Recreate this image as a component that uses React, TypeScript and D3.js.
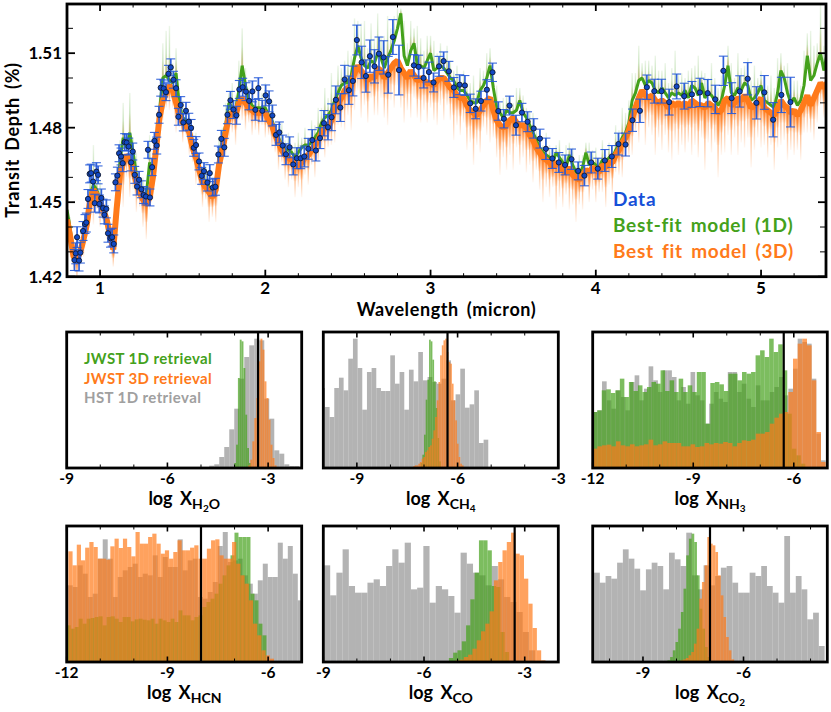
import React, { useEffect, useRef } from "react";
import * as d3 from "d3";

const FONT = "Lato, 'Open Sans', sans-serif";
const GREEN = "#44a11b";
const ORANGE = "#ff7a1a";
const GREY = "#a0a0a0";
const BLUE = "#1650d8";

// measured spectrum
const wavelengths = [
  0.845, 0.853, 0.861, 0.873, 0.881, 0.897, 0.909, 0.917, 0.927, 0.937,
  0.946, 0.958, 0.968, 0.978, 0.988, 0.996, 1.008, 1.018, 1.026, 1.038,
  1.048, 1.063, 1.073, 1.083, 1.093, 1.105, 1.115, 1.127, 1.137, 1.149,
  1.161, 1.173, 1.188, 1.198, 1.21, 1.224, 1.236, 1.25, 1.264, 1.278,
  1.29, 1.302, 1.315, 1.329, 1.343, 1.357, 1.367, 1.385, 1.399, 1.414,
  1.428, 1.444, 1.46, 1.474, 1.488, 1.504, 1.52, 1.537, 1.551, 1.567,
  1.581, 1.599, 1.615, 1.629, 1.65, 1.664, 1.682, 1.698, 1.716, 1.734,
  1.752, 1.771, 1.789, 1.807, 1.825, 1.843, 1.863, 1.883, 1.902, 1.922,
  1.94, 1.958, 1.982, 2.002, 2.023, 2.043, 2.065, 2.085, 2.105, 2.125,
  2.147, 2.169, 2.191, 2.214, 2.236, 2.26, 2.284, 2.306, 2.331, 2.355,
  2.379, 2.401, 2.427, 2.454, 2.48, 2.506, 2.53, 2.554, 2.583, 2.609,
  2.633, 2.661, 2.688, 2.716, 2.744, 2.772, 2.809, 2.899, 2.928, 2.958,
  2.99, 3.018, 3.051, 3.079, 3.111, 3.141, 3.176, 3.208, 3.24, 3.273,
  3.305, 3.341, 3.375, 3.41, 3.444, 3.478, 3.517, 3.553, 3.587, 3.624,
  3.662, 3.698, 3.737, 3.776, 3.814, 3.853, 3.893, 3.931, 3.972, 4.012,
  4.055, 4.097, 4.137, 4.18, 4.222, 4.267, 4.309, 4.354, 4.398, 4.444,
  4.489, 4.535, 4.582, 4.63, 4.677, 4.723, 4.772, 4.822, 4.871, 4.919,
  4.972, 5.02, 5.073, 5.123, 5.178,
];
const depths = [
  1.4267, 1.4294, 1.4359, 1.4265, 1.4297, 1.4384, 1.4412, 1.4418, 1.4513, 1.4614,
  1.4617, 1.4583, 1.4496, 1.4623, 1.461, 1.4493, 1.4517, 1.4476, 1.4449, 1.4473,
  1.4375, 1.4355, 1.4359, 1.4332, 1.458, 1.4607, 1.4697, 1.4684, 1.4657, 1.4742,
  1.474, 1.4724, 1.466, 1.4704, 1.461, 1.4563, 1.459, 1.4552, 1.4529, 1.4523,
  1.4711, 1.4519, 1.4641, 1.4747, 1.4728, 1.4852, 1.4961, 1.4958, 1.4943, 1.5017,
  1.5043, 1.4993, 1.4959, 1.4844, 1.4891, 1.4821, 1.4868, 1.4824, 1.4799, 1.4719,
  1.473, 1.4664, 1.4606, 1.4625, 1.4579, 1.4617, 1.4559, 1.4562, 1.4692, 1.4755,
  1.4721, 1.4852, 1.491, 1.4873, 1.485, 1.4954, 1.4963, 1.4945, 1.4908, 1.4946,
  1.4872, 1.4959, 1.4868, 1.493, 1.4906, 1.4849, 1.4771, 1.4781, 1.4728, 1.4693,
  1.4721, 1.4652, 1.4677, 1.4677, 1.4684, 1.4715, 1.475, 1.4708, 1.4758, 1.4818,
  1.4802, 1.4842, 1.4912, 1.4881, 1.4994, 1.4951, 1.4988, 1.5153, 1.5063, 1.5008,
  1.5088, 1.5047, 1.5098, 1.5083, 1.5013, 1.5165, 1.5032, 1.5051, 1.5045, 1.5,
  1.5024, 1.4982, 1.5047, 1.5068, 1.5027, 1.4962, 1.4973, 1.497, 1.4898, 1.4876,
  1.4907, 1.4953, 1.5023, 1.4867, 1.4836, 1.4889, 1.481, 1.4861, 1.4824, 1.4797,
  1.4756, 1.4715, 1.4676, 1.466, 1.465, 1.4673, 1.4626, 1.4607, 1.466, 1.4635,
  1.4668, 1.4684, 1.4734, 1.4732, 1.483, 1.4868, 1.4963, 1.4947, 1.4947, 1.4903,
  1.4966, 1.4927, 1.4934, 1.4942, 1.4939, 1.4914, 1.5029, 1.4919, 1.4946, 1.4997,
  1.49, 1.4942, 1.4832, 1.4932, 1.4903,
];
const depthErrors = [
  0.0042, 0.0042, 0.0042, 0.0042, 0.0042, 0.0038, 0.0038, 0.0038, 0.0038, 0.0036,
  0.0036, 0.0036, 0.0036, 0.0036, 0.0036, 0.0036, 0.0036, 0.0036, 0.0036, 0.0036,
  0.0036, 0.0036, 0.0036, 0.0036, 0.0034, 0.0034, 0.0034, 0.0034, 0.0034, 0.0034,
  0.0034, 0.0034, 0.0034, 0.0034, 0.0034, 0.0034, 0.0034, 0.0034, 0.0034, 0.0034,
  0.0034, 0.0034, 0.0034, 0.0034, 0.0034, 0.0034, 0.0034, 0.0034, 0.0034, 0.0034,
  0.0034, 0.0034, 0.0034, 0.0034, 0.0034, 0.0034, 0.0034, 0.0034, 0.0034, 0.0034,
  0.0034, 0.0034, 0.0034, 0.0034, 0.0034, 0.0034, 0.0034, 0.0034, 0.0034, 0.0034,
  0.0036, 0.0036, 0.0036, 0.0036, 0.0036, 0.0036, 0.0036, 0.0036, 0.0036, 0.0042,
  0.0042, 0.0042, 0.0042, 0.0042, 0.0042, 0.0042, 0.0042, 0.0042, 0.0042, 0.0042,
  0.0042, 0.0042, 0.0042, 0.0042, 0.0042, 0.0042, 0.0042, 0.0042, 0.0042, 0.0051,
  0.0051, 0.0054, 0.0056, 0.0056, 0.0057, 0.0057, 0.006, 0.006, 0.0065, 0.0065,
  0.0065, 0.0067, 0.0067, 0.0067, 0.0074, 0.007, 0.01, 0.0043, 0.0047, 0.004,
  0.004, 0.0038, 0.004, 0.0037, 0.004, 0.004, 0.004, 0.004, 0.0037, 0.004,
  0.004, 0.004, 0.0037, 0.0037, 0.0037, 0.0038, 0.004, 0.0037, 0.004, 0.0039,
  0.0038, 0.0043, 0.004, 0.004, 0.004, 0.0041, 0.0036, 0.0041, 0.0042, 0.0042,
  0.0044, 0.0044, 0.0044, 0.0046, 0.0045, 0.0047, 0.0049, 0.0048, 0.0048, 0.0052,
  0.005, 0.0052, 0.0052, 0.0057, 0.0055, 0.0057, 0.0059, 0.0062, 0.0063, 0.0065,
  0.0065, 0.0068, 0.0069, 0.0071, 0.01,
];

// model spectra, one value every 0.02 micron from 0.80
const MODEL_START = 0.8;
const MODEL_STEP = 0.02;
const model3D = [
  1.443, 1.436, 1.428, 1.427, 1.43, 1.435, 1.441, 1.451, 1.455, 1.453,
  1.45, 1.447, 1.443, 1.437, 1.431, 1.447, 1.461, 1.466, 1.469, 1.467,
  1.463, 1.458, 1.454, 1.451, 1.449, 1.452, 1.46, 1.472, 1.484, 1.491,
  1.494, 1.497, 1.495, 1.49, 1.485, 1.482, 1.481, 1.478, 1.472, 1.468,
  1.463, 1.458, 1.456, 1.454, 1.452, 1.455, 1.465, 1.471, 1.478, 1.485,
  1.486, 1.485, 1.49, 1.492, 1.49, 1.488, 1.487, 1.486, 1.486, 1.486,
  1.486, 1.483, 1.481, 1.477, 1.474, 1.471, 1.469, 1.468, 1.467, 1.465,
  1.465, 1.466, 1.468, 1.469, 1.471, 1.473, 1.475, 1.478, 1.48, 1.48,
  1.483, 1.488, 1.49, 1.492, 1.495, 1.496, 1.497, 1.502, 1.505, 1.503,
  1.501, 1.499, 1.501, 1.5, 1.504, 1.503, 1.5, 1.502, 1.504, 1.506,
  1.507, 1.504, 1.502, 1.5, 1.503, 1.501, 1.499, 1.5, 1.499, 1.498,
  1.498, 1.497, 1.499, 1.5, 1.5, 1.498, 1.496, 1.495, 1.493, 1.492,
  1.492, 1.489, 1.487, 1.486, 1.485, 1.487, 1.489, 1.491, 1.492, 1.487,
  1.483, 1.481, 1.48, 1.481, 1.483, 1.484, 1.482, 1.481, 1.481, 1.48,
  1.477, 1.475, 1.472, 1.47, 1.468, 1.467, 1.466, 1.464, 1.466, 1.465,
  1.463, 1.462, 1.464, 1.461, 1.46, 1.459, 1.461, 1.463, 1.462, 1.464,
  1.463, 1.462, 1.465, 1.464, 1.466, 1.466, 1.469, 1.471, 1.474, 1.476,
  1.479, 1.484, 1.488, 1.492, 1.495, 1.493, 1.492, 1.493, 1.491, 1.49,
  1.491, 1.49, 1.488, 1.49, 1.489, 1.49, 1.489, 1.49, 1.488, 1.491,
  1.49, 1.489, 1.489, 1.488, 1.49, 1.489, 1.488, 1.486, 1.487, 1.491,
  1.492, 1.489, 1.49, 1.492, 1.491, 1.493, 1.491, 1.488, 1.489, 1.49,
  1.492, 1.488, 1.487, 1.486, 1.485, 1.488, 1.491, 1.489, 1.488, 1.486,
  1.487, 1.485, 1.487, 1.49, 1.493, 1.489, 1.492, 1.495, 1.498, 1.496,
  1.498,
];
const model1D = [
  1.447, 1.439, 1.429, 1.428, 1.431, 1.436, 1.442, 1.453, 1.457, 1.455,
  1.451, 1.448, 1.444, 1.438, 1.432, 1.449, 1.466, 1.476, 1.472, 1.478,
  1.47, 1.461, 1.456, 1.453, 1.453, 1.466, 1.461, 1.474, 1.487, 1.5,
  1.501, 1.499, 1.498, 1.502, 1.489, 1.484, 1.483, 1.48, 1.474, 1.47,
  1.465, 1.46, 1.458, 1.456, 1.454, 1.457, 1.468, 1.475, 1.481, 1.49,
  1.488, 1.487, 1.495, 1.505, 1.497, 1.491, 1.489, 1.488, 1.488, 1.488,
  1.488, 1.485, 1.483, 1.479, 1.476, 1.473, 1.471, 1.471, 1.47, 1.468,
  1.47, 1.472, 1.473, 1.473, 1.474, 1.476, 1.478, 1.482, 1.484, 1.485,
  1.487, 1.491, 1.494, 1.497, 1.498, 1.498, 1.501, 1.508, 1.513, 1.508,
  1.505, 1.504, 1.507, 1.506, 1.51, 1.508, 1.504, 1.508, 1.511, 1.515,
  1.52, 1.526, 1.509, 1.505, 1.511, 1.514, 1.505, 1.505, 1.504, 1.507,
  1.51, 1.503, 1.504, 1.505, 1.504, 1.502, 1.5, 1.499, 1.496, 1.495,
  1.495, 1.493, 1.491, 1.49, 1.49, 1.495, 1.497, 1.5, 1.505, 1.496,
  1.488, 1.486, 1.484, 1.487, 1.486, 1.486, 1.487, 1.491, 1.486, 1.484,
  1.481, 1.478, 1.475, 1.472, 1.47, 1.469, 1.468, 1.466, 1.47, 1.468,
  1.466, 1.464, 1.469, 1.465, 1.462, 1.461, 1.464, 1.47, 1.465, 1.466,
  1.465, 1.464, 1.467, 1.466, 1.468, 1.468, 1.471, 1.473, 1.476, 1.478,
  1.482, 1.491, 1.494, 1.499, 1.5, 1.497, 1.499, 1.498, 1.495, 1.494,
  1.496, 1.494, 1.492, 1.494, 1.493, 1.494, 1.493, 1.495, 1.492, 1.497,
  1.496, 1.493, 1.498, 1.492, 1.494, 1.493, 1.491, 1.489, 1.491, 1.497,
  1.505, 1.494, 1.493, 1.496, 1.495, 1.498, 1.497, 1.491, 1.492, 1.494,
  1.497, 1.491, 1.49, 1.489, 1.488, 1.494, 1.503, 1.5, 1.494, 1.49,
  1.492, 1.489, 1.491, 1.497, 1.509, 1.499, 1.501, 1.506, 1.51, 1.503,
  1.51,
];
// length of the faint opacity features above/below the models, in 0.001 %
const spikeUp = [
  12, 5, 3, 6, 2, 7, 4, 9, 16, 6,
  8, 3, 7, 2, 5, 3, 9, 14, 5, 16,
  6, 9, 4, 7, 3, 11, 5, 8, 6, 14,
  18, 22, 8, 10, 5, 7, 3, 6, 4, 8,
  5, 3, 7, 4, 6, 3, 8, 5, 9, 4,
  10, 6, 12, 15, 7, 5, 9, 4, 8, 6,
  10, 5, 8, 3, 6, 9, 4, 7, 3, 6,
  8, 4, 7, 3, 9, 5, 10, 6, 12, 7,
  15, 6, 11, 7, 9, 13, 8, 16, 10, 14,
  18, 8, 15, 10, 16, 9, 13, 17, 9, 10,
  8, 2, 14, 9, 12, 6, 16, 11, 7, 10,
  7, 12, 6, 9, 5, 11, 7, 4, 9, 6,
  8, 4, 7, 11, 5, 9, 6, 10, 7, 5,
  9, 4, 8, 6, 7, 4, 9, 5, 7, 4,
  6, 8, 4, 7, 3, 9, 5, 6, 3, 7,
  4, 9, 5, 7, 3, 8, 5, 4, 9, 5,
  7, 4, 8, 3, 6, 5, 10, 6, 12, 8,
  9, 11, 8, 14, 6, 10, 8, 7, 14, 9,
  7, 12, 6, 10, 18, 8, 9, 5, 11, 7,
  9, 16, 5, 10, 6, 13, 9, 7, 10, 6,
  8, 12, 7, 14, 9, 7, 11, 8, 13, 6,
  6, 9, 7, 12, 8, 14, 7, 5, 12, 9,
  7, 10, 6, 14, 9, 20, 12, 8, 20, 10,
  9,
];
const spikeDown = [
  6, 8, 5, 9, 4, 7, 5, 8, 14, 6,
  10, 5, 8, 4, 7, 6, 12, 18, 9, 15,
  8, 12, 6, 11, 14, 5, 9, 7, 4, 8,
  6, 10, 7, 12, 5, 8, 4, 9, 6, 11,
  7, 10, 5, 12, 8, 13, 6, 5, 9, 10,
  8, 12, 7, 9, 11, 6, 10, 7, 9, 5,
  10, 6, 9, 7, 11, 5, 10, 12, 8, 13,
  9, 14, 7, 12, 6, 13, 9, 7, 12, 8,
  10, 14, 9, 12, 16, 11, 18, 15, 10, 19,
  12, 17, 9, 15, 19, 11, 16, 21, 13, 18,
  10, 16, 20, 13, 19, 9, 15, 18, 12, 16,
  10, 14, 18, 11, 17, 9, 13, 20, 12, 15,
  10, 18, 13, 21, 12, 17, 9, 14, 18, 11,
  15, 20, 12, 18, 14, 21, 10, 16, 13, 18,
  12, 17, 9, 15, 18, 11, 14, 8, 19, 13,
  15, 9, 17, 12, 18, 10, 14, 7, 12, 9,
  13, 8, 11, 16, 9, 13, 7, 10, 14, 8,
  11, 15, 10, 18, 13, 20, 12, 16, 22, 14,
  20, 13, 18, 23, 15, 21, 16, 20, 14, 22,
  17, 21, 13, 25, 16, 19, 14, 26, 18, 21,
  15, 20, 14, 23, 17, 21, 15, 24, 18, 14,
  20, 15, 19, 13, 22, 16, 18, 14, 21, 15,
  18, 14, 20, 12, 15, 11, 17, 13, 9, 12,
  11,
];

const xTicksMain = [1, 2, 3, 4, 5];
const yTicksMain = [1.42, 1.45, 1.48, 1.51];
const yMinorMain = [1.43, 1.44, 1.46, 1.47, 1.49, 1.5, 1.52];
const legendMain = [
  { text: "Data", color: BLUE },
  { text: "Best-fit model (1D)", color: GREEN },
  { text: "Best fit model (3D)", color: ORANGE },
];
const legendHist = [
  { text: "JWST 1D retrieval", color: GREEN },
  { text: "JWST 3D retrieval", color: ORANGE },
  { text: "HST 1D retrieval", color: GREY },
];

// posterior histograms, heights in arbitrary counts
const h2oGrey = [7, 11, 33, 63, 116, 178, 268, 333, 368, 388, 383, 208, 148, 53, 43, 11, 6, 6];
const h2oGreen = [15, 70, 270, 385, 380, 300, 160, 60, 15];
const h2oOrange = [8, 25, 80, 150, 210, 320, 388, 355, 260, 210, 145, 70, 30, 8];

const ch4Grey = [240, 183, 153, 240, 271, 233, 328, 388, 300, 175, 288, 300, 240, 231, 231, 338, 253, 288, 175, 295, 260, 348, 263, 273, 258, 253, 268, 323, 203, 221, 298, 181, 191, 233, 75, 85];
const ch4Green = [15, 40, 100, 205, 265, 385, 380, 325, 260, 180, 90, 20];
const ch4Orange = [3, 6, 8, 8, 13, 18, 28, 33, 48, 53, 63, 68, 88, 113, 153, 203, 258, 338, 368, 383, 388, 348, 318, 313, 253, 203, 143, 73, 33, 13, 8, 3];

const nh3Grey = [168, 173, 260, 203, 178, 233, 213, 173, 258, 278, 203, 238, 305, 263, 228, 293, 293, 273, 203, 243, 193, 288, 218, 203, 133, 193, 228, 208, 198, 288, 288, 228, 253, 208, 183, 248, 203, 203, 228, 243, 273, 218, 238, 298, 388, 378, 373, 268, 103, 23];
const nh3Green = [168, 173, 233, 236, 225, 233, 268, 213, 258, 231, 248, 228, 243, 258, 253, 293, 231, 263, 228, 268, 228, 248, 228, 288, 288, 133, 255, 258, 251, 231, 283, 283, 263, 288, 283, 288, 338, 353, 333, 388, 348, 371, 293, 163, 58, 38, 13];
const nh3Orange = [58, 65, 68, 70, 65, 80, 68, 65, 71, 65, 68, 71, 85, 68, 71, 80, 75, 75, 75, 65, 65, 71, 63, 65, 75, 71, 75, 73, 78, 75, 65, 75, 83, 81, 85, 103, 103, 108, 133, 151, 163, 168, 228, 328, 373, 388, 368, 263, 108, 18];

const hcnGrey = [230, 225, 290, 265, 195, 205, 310, 368, 310, 195, 255, 275, 285, 295, 255, 265, 260, 320, 255, 315, 285, 285, 368, 275, 305, 310, 195, 190, 210, 240, 348, 390, 300, 305, 310, 260, 235, 205, 245, 295, 255, 255, 358, 310, 348, 265, 185];
const hcnGreen = [110, 100, 105, 130, 115, 130, 132, 135, 137, 110, 135, 137, 130, 120, 135, 135, 122, 128, 130, 127, 125, 130, 115, 130, 125, 120, 130, 120, 155, 140, 140, 125, 135, 140, 165, 180, 190, 205, 235, 260, 290, 320, 388, 375, 375, 375, 205, 185, 115, 80];
const hcnOrange = [332, 290, 352, 305, 343, 360, 345, 310, 310, 307, 347, 370, 342, 370, 345, 317, 390, 355, 355, 375, 385, 355, 325, 335, 310, 330, 365, 335, 335, 343, 350, 310, 310, 340, 365, 368, 320, 310, 310, 360, 295, 260, 235, 185, 115, 80, 35, 20, 10];

const coGrey = [290, 200, 268, 338, 228, 208, 208, 238, 248, 228, 288, 338, 298, 358, 218, 223, 348, 178, 228, 218, 198, 148, 328, 295, 268, 260, 230, 288, 248, 195, 180, 150, 90, 35];
const coGreen = [12, 28, 35, 62, 110, 188, 268, 365, 365, 335, 228, 225, 90, 30];
const coOrange = [4, 7, 15, 22, 40, 65, 92, 115, 152, 245, 300, 335, 360, 388, 325, 320, 250, 175, 102, 35, 5];

const co2Grey = [268, 238, 258, 250, 298, 338, 310, 280, 215, 278, 298, 288, 218, 328, 308, 288, 388, 260, 218, 290, 230, 258, 283, 288, 238, 208, 208, 268, 258, 288, 228, 208, 178, 378, 208, 258, 218, 128, 148, 48];
const co2Green = [5, 15, 35, 60, 100, 150, 220, 320, 370, 385, 360, 260, 160, 100, 45, 15];
const co2Orange = [5, 8, 12, 20, 30, 55, 100, 190, 240, 290, 375, 355, 350, 330, 260, 200, 135, 75, 35, 8];

type Series = { start: number; width: number; counts: number[]; color: string; opacity: number };
type Panel = {
  sub: [string, boolean][];
  domain: [number, number];
  ticks: number[];
  truth: number;
  left: number;
  right: number;
  top: number;
  bottom: number;
  series: Series[];
};

const hist = (start: number, width: number, counts: number[], color: string): Series => ({
  start,
  width,
  counts,
  color,
  opacity: color === GREY ? 0.8 : 0.7,
});

const ROW1 = { top: 332, bottom: 468 };
const ROW2 = { top: 526, bottom: 662 };
const COL1 = { left: 66.7, right: 301.7 };
const COL2 = { left: 323.3, right: 558.3 };
const COL3 = { left: 592.7, right: 827.3 };

const panels: Panel[] = [
  {
    sub: [["H", false], ["2", true], ["O", false]],
    domain: [-9, -2],
    ticks: [-9, -6, -3],
    truth: -3.3,
    ...ROW1,
    ...COL1,
    series: [
      hist(-4.754, 0.149, h2oGrey, GREY),
      hist(-4.01, 0.055, h2oGreen, GREEN),
      hist(-3.59, 0.06, h2oOrange, ORANGE),
    ],
  },
  {
    sub: [["CH", false], ["4", true]],
    domain: [-10, -3],
    ticks: [-9, -6, -3],
    truth: -6.3,
    ...ROW1,
    ...COL2,
    series: [
      hist(-10.09, 0.139, ch4Grey, GREY),
      hist(-7.1, 0.05, ch4Green, GREEN),
      hist(-7.37, 0.05, ch4Orange, ORANGE),
    ],
  },
  {
    sub: [["NH", false], ["3", true]],
    domain: [-12, -5],
    ticks: [-12, -9, -6],
    truth: -6.3,
    ...ROW1,
    ...COL3,
    series: [
      hist(-12, 0.139, nh3Grey, GREY),
      hist(-12, 0.135, nh3Green, GREEN),
      hist(-12, 0.139, nh3Orange, ORANGE),
    ],
  },
  {
    sub: [["HCN", false]],
    domain: [-12, -5],
    ticks: [-12, -9, -6],
    truth: -8,
    ...ROW2,
    ...COL1,
    series: [
      hist(-11.97, 0.149, hcnGrey, GREY),
      hist(-12, 0.119, hcnGreen, GREEN),
      hist(-11.95, 0.125, hcnOrange, ORANGE),
    ],
  },
  {
    sub: [["CO", false]],
    domain: [-9, -2],
    ticks: [-9, -6, -3],
    truth: -3.3,
    ...ROW2,
    ...COL2,
    series: [
      hist(-8.98, 0.185, coGrey, GREY),
      hist(-5.26, 0.128, coGreen, GREEN),
      hist(-5.07, 0.128, coOrange, ORANGE),
    ],
  },
  {
    sub: [["CO", false], ["2", true]],
    domain: [-10.5, -3.5],
    ticks: [-9, -6],
    truth: -7,
    ...ROW2,
    ...COL3,
    series: [
      hist(-10.46, 0.172, co2Grey, GREY),
      hist(-8.27, 0.08, co2Green, GREEN),
      hist(-7.88, 0.08, co2Orange, ORANGE),
    ],
  },
];

const WIDTH = 831;
const HEIGHT = 712;
const MAIN = { left: 67, right: 826, top: 4, bottom: 276.7 };
const COUNT_MAX = 408;

const App: React.FC = () => {
  const svgRef = useRef<SVGSVGElement | null>(null);

  useEffect(() => {
    const svgElement = svgRef.current;
    if (!svgElement) return;

    const svg = d3.select(svgElement);
    svg.selectAll("*").remove();
    svg.attr("font-family", FONT).attr("font-weight", 700);

    const defs = svg.append("defs");
    const fade = (id: string, color: string, from: number, to: number, up: boolean) => {
      const g = defs
        .append("linearGradient")
        .attr("id", id)
        .attr("x1", 0)
        .attr("x2", 0)
        .attr("y1", up ? 1 : 0)
        .attr("y2", up ? 0 : 1);
      g.append("stop").attr("offset", 0).attr("stop-color", color).attr("stop-opacity", from);
      g.append("stop").attr("offset", 1).attr("stop-color", color).attr("stop-opacity", to);
    };
    fade("fadeUpGreen", GREEN, 0.45, 0.1, true);
    fade("fadeUpOrange", "#c98a2a", 0.35, 0, true);
    fade("fadeDownOrange", ORANGE, 0.9, 0.05, false);
    defs
      .append("clipPath")
      .attr("id", "mainClip")
      .append("rect")
      .attr("x", MAIN.left)
      .attr("y", MAIN.top)
      .attr("width", MAIN.right - MAIN.left)
      .attr("height", MAIN.bottom - MAIN.top);

    // ---- main spectrum
    const x = d3.scaleLinear().domain([0.8, 5.393]).range([MAIN.left, MAIN.right]);
    const y = d3.scaleLinear().domain([1.42, 1.5298]).range([MAIN.bottom, MAIN.top]);
    const modelX = (i: number) => x(MODEL_START + i * MODEL_STEP);
    const step = x(MODEL_STEP) - x(0);

    const plot = svg.append("g").attr("clip-path", "url(#mainClip)");

    // soft band hugging the model, then thin long spikes
    model3D.forEach((v, i) => {
      const down = spikeDown[i] * 0.001;
      plot
        .append("rect")
        .attr("x", modelX(i) - step / 2)
        .attr("width", step)
        .attr("y", y(v))
        .attr("height", y(v - down * 0.5) - y(v))
        .attr("fill", "url(#fadeDownOrange)");
      plot
        .append("rect")
        .attr("x", modelX(i) - 0.7)
        .attr("width", 1.4)
        .attr("y", y(v))
        .attr("height", y(v - down) - y(v))
        .attr("fill", "url(#fadeDownOrange)");
    });
    model1D.forEach((v, i) => {
      const up = spikeUp[i] * 0.001;
      plot
        .append("rect")
        .attr("x", modelX(i) - 0.7)
        .attr("width", 1.4)
        .attr("y", y(v + up))
        .attr("height", y(v) - y(v + up))
        .attr("fill", "url(#fadeUpGreen)");
      plot
        .append("rect")
        .attr("x", modelX(i) - 1.1)
        .attr("width", 2.2)
        .attr("y", y(v + up * 0.5))
        .attr("height", y(v) - y(v + up * 0.5))
        .attr("fill", "url(#fadeUpOrange)");
    });

    const line = d3
      .line<number>()
      .x((_, i) => modelX(i))
      .y((d) => y(d));
    plot
      .append("path")
      .attr("d", line(model1D))
      .attr("fill", "none")
      .attr("stroke", GREEN)
      .attr("stroke-width", 3)
      .attr("stroke-linejoin", "bevel");
    plot
      .append("path")
      .attr("d", line(model3D))
      .attr("fill", "none")
      .attr("stroke", ORANGE)
      .attr("stroke-width", 6)
      .attr("stroke-linejoin", "bevel");

    const points = wavelengths.map((w, i) => ({ w, d: depths[i], e: depthErrors[i] }));
    const bars = svg.append("g").attr("stroke", "#2459d8");
    bars
      .selectAll("line.stem")
      .data(points)
      .join("line")
      .attr("x1", (p) => x(p.w))
      .attr("x2", (p) => x(p.w))
      .attr("y1", (p) => y(p.d - p.e))
      .attr("y2", (p) => y(p.d + p.e))
      .attr("stroke-width", 1.7)
      .attr("stroke-opacity", 0.95);
    [-1, 1].forEach((sign) => {
      bars
        .selectAll(`line.cap${sign}`)
        .data(points)
        .join("line")
        .attr("class", `cap${sign}`)
        .attr("x1", (p) => x(p.w) - 4.5)
        .attr("x2", (p) => x(p.w) + 4.5)
        .attr("y1", (p) => y(p.d + sign * p.e))
        .attr("y2", (p) => y(p.d + sign * p.e))
        .attr("stroke-width", 1.1)
        .attr("stroke-opacity", 0.9);
    });
    svg
      .append("g")
      .selectAll("circle")
      .data(points)
      .join("circle")
      .attr("cx", (p) => x(p.w))
      .attr("cy", (p) => y(p.d))
      .attr("r", 2.6)
      .attr("fill", "#1148c4")
      .attr("stroke", "#101a30")
      .attr("stroke-width", 0.9);

    // inward ticks for the frames
    const ticksX = (sel: any, scale: (v: number) => number, vals: number[], top: number, bottom: number, len: number, w: number) => {
      vals.forEach((v) => {
        sel.append("line").attr("x1", scale(v)).attr("x2", scale(v)).attr("y1", top).attr("y2", top + len).attr("stroke", "#000").attr("stroke-width", w);
        sel.append("line").attr("x1", scale(v)).attr("x2", scale(v)).attr("y1", bottom).attr("y2", bottom - len).attr("stroke", "#000").attr("stroke-width", w);
      });
    };

    const mainTicks = svg.append("g");
    ticksX(mainTicks, x, d3.range(0.8, 5.4, 0.2).filter((v) => Math.abs(v - Math.round(v)) > 0.01), MAIN.top, MAIN.bottom, 3.5, 1);
    ticksX(mainTicks, x, xTicksMain, MAIN.top, MAIN.bottom, 7, 1.8);
    yMinorMain.forEach((v) => {
      mainTicks.append("line").attr("x1", MAIN.left).attr("x2", MAIN.left + 6).attr("y1", y(v)).attr("y2", y(v)).attr("stroke", "#000").attr("stroke-width", 1);
      mainTicks.append("line").attr("x1", MAIN.right).attr("x2", MAIN.right - 6).attr("y1", y(v)).attr("y2", y(v)).attr("stroke", "#000").attr("stroke-width", 1);
    });
    yTicksMain.forEach((v) => {
      mainTicks.append("line").attr("x1", MAIN.left).attr("x2", MAIN.left + 8).attr("y1", y(v)).attr("y2", y(v)).attr("stroke", "#000").attr("stroke-width", 1.8);
      mainTicks.append("line").attr("x1", MAIN.right).attr("x2", MAIN.right - 8).attr("y1", y(v)).attr("y2", y(v)).attr("stroke", "#000").attr("stroke-width", 1.8);
      svg.append("text").attr("x", 62).attr("y", y(v) + 6).attr("text-anchor", "end").attr("font-size", 17).text(v.toFixed(2));
    });
    xTicksMain.forEach((v) => {
      svg.append("text").attr("x", x(v)).attr("y", 294).attr("text-anchor", "middle").attr("font-size", 17).text(v);
    });
    svg
      .append("rect")
      .attr("x", MAIN.left)
      .attr("y", MAIN.top)
      .attr("width", MAIN.right - MAIN.left)
      .attr("height", MAIN.bottom - MAIN.top)
      .attr("fill", "none")
      .attr("stroke", "#000")
      .attr("stroke-width", 2.8);

    svg.append("text").attr("x", 446.5).attr("y", 316).attr("text-anchor", "middle").attr("font-size", 18).attr("letter-spacing", 0.6).attr("word-spacing", 3).text("Wavelength (micron)");
    svg
      .append("text")
      .attr("transform", "translate(19,140) rotate(-90)")
      .attr("text-anchor", "middle")
      .attr("font-size", 18)
      .attr("letter-spacing", 0.7)
      .attr("word-spacing", 3)
      .text("Transit Depth (%)");

    legendMain.forEach((item, i) => {
      svg
        .append("text")
        .attr("x", 613)
        .attr("y", 206 + i * 26)
        .attr("fill", item.color)
        .attr("font-size", 19)
        .attr("letter-spacing", 0.7)
        .attr("word-spacing", 3)
        .text(item.text);
    });

    // ---- histogram panels
    panels.forEach((p, idx) => {
      const hx = d3.scaleLinear().domain(p.domain).range([p.left, p.right]);
      const hy = d3.scaleLinear().domain([0, COUNT_MAX]).range([p.bottom, p.top]);
      const clipId = `histClip${idx}`;
      defs
        .append("clipPath")
        .attr("id", clipId)
        .append("rect")
        .attr("x", p.left)
        .attr("y", p.top)
        .attr("width", p.right - p.left)
        .attr("height", p.bottom - p.top);
      const g = svg.append("g").attr("clip-path", `url(#${clipId})`);
      p.series.forEach((s) => {
        g.append("g")
          .attr("fill", s.color)
          .attr("fill-opacity", s.opacity)
          .selectAll("rect")
          .data(s.counts)
          .join("rect")
          .attr("x", (_, i) => hx(s.start + i * s.width))
          .attr("width", hx(s.start + s.width) - hx(s.start))
          .attr("y", (d) => hy(d))
          .attr("height", (d) => hy(0) - hy(d));
      });

      const axes = svg.append("g");
      const minor = d3.range(Math.ceil(p.domain[0]), p.domain[1] + 0.01).filter((v) => !p.ticks.includes(v));
      ticksX(axes, hx, minor, p.top, p.bottom, 3.5, 1);
      ticksX(axes, hx, p.ticks, p.top, p.bottom, 5.5, 1.6);

      axes
        .append("line")
        .attr("x1", hx(p.truth))
        .attr("x2", hx(p.truth))
        .attr("y1", p.top)
        .attr("y2", p.bottom)
        .attr("stroke", "#000")
        .attr("stroke-width", 2.2);
      axes
        .append("rect")
        .attr("x", p.left)
        .attr("y", p.top)
        .attr("width", p.right - p.left)
        .attr("height", p.bottom - p.top)
        .attr("fill", "none")
        .attr("stroke", "#000")
        .attr("stroke-width", 2.8);

      p.ticks.forEach((v) => {
        axes.append("text").attr("x", hx(v)).attr("y", p.bottom + 15.5).attr("text-anchor", "middle").attr("font-size", 15.5).text(v);
      });

      const label = axes
        .append("text")
        .attr("x", (p.left + p.right) / 2)
        .attr("y", p.bottom + 37)
        .attr("text-anchor", "middle")
        .attr("font-size", 18)
        .attr("word-spacing", 3);
      label.append("tspan").text("log X");
      let offset = 0;
      p.sub.forEach(([part, lower]) => {
        const target = lower ? 7 : 4;
        label
          .append("tspan")
          .attr("font-size", lower ? 10 : 14)
          .attr("dy", target - offset)
          .text(part);
        offset = target;
      });
    });

    legendHist.forEach((item, i) => {
      svg
        .append("text")
        .attr("x", 84)
        .attr("y", 364 + i * 19.5)
        .attr("fill", item.color)
        .attr("font-size", 15)
        .attr("letter-spacing", 0.4)
        .text(item.text);
    });
  }, []);

  return (
    <svg
      ref={svgRef}
      width={WIDTH}
      height={HEIGHT}
      style={{ position: "absolute", left: 0, top: 0, background: "#fff" }}
    />
  );
};

export default App;
